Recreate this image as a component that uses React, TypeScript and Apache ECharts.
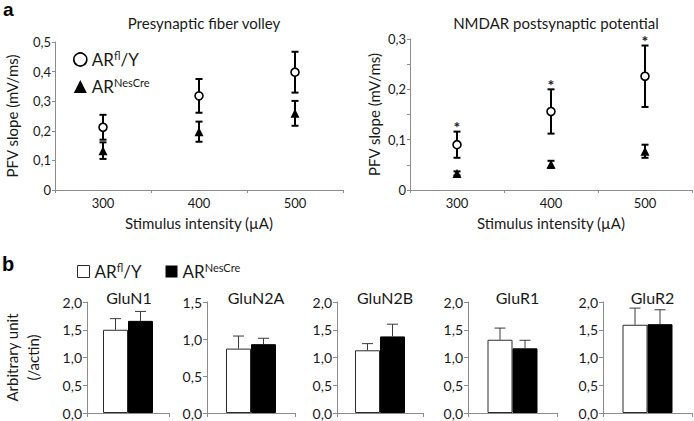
import React, { useEffect, useRef } from "react";
import * as echarts from "echarts";

// ---- data ----
const intensities = ["300", "400", "500"];
const pfvFl = [0.212, 0.318, 0.398];
const pfvFlErr = [0.042, 0.057, 0.069];
const pfvNes = [0.133, 0.197, 0.259];
const pfvNesErr = [0.028, 0.034, 0.042];
const nmdaFl = [0.09, 0.156, 0.226];
const nmdaFlErr = [0.026, 0.044, 0.061];
const nmdaNes = [0.033, 0.051, 0.077];
const nmdaNesErr = [0.004, 0.007, 0.013];
const nmdaSignificant = [true, true, true];

const proteins = ["GluN1", "GluN2A", "GluN2B", "GluR1", "GluR2"];
const blotFl = [1.5, 0.87, 1.13, 1.32, 1.59];
const blotFlErr = [0.2, 0.17, 0.12, 0.21, 0.3];
const blotNes = [1.66, 0.93, 1.38, 1.165, 1.6];
const blotNesErr = [0.17, 0.08, 0.22, 0.145, 0.26];
const blotMax = [2.0, 1.5, 2.0, 2.0, 2.0];

// ---- layout / style ----
const FONT = "Lato";
const TXT = "#1a1a1a";
const AX = "#8c8c8c";
const topGrids = [
  { left: 55, top: 42, width: 288, height: 148 },
  { left: 410, top: 39, width: 282, height: 151 },
];
const topTitles = ["Presynaptic fiber volley", "NMDAR postsynaptic potential"];
const topMax = [0.5, 0.3];
const topNameGap = [36, 29];
const botLefts = [79, 207, 337, 468, 603];
const botWidths = [90, 88, 86, 89, 89];
const BOT_TOP = 302;
const BOT_H = 111;
const BAR_W = 25;

const comma = (v: number, d: number) => v.toFixed(d).replace(".", ",");

export default function App() {
  const ref = useRef<HTMLDivElement>(null);
  useEffect(() => {
    document.body.style.margin = "0";
    const chart = echarts.init(ref.current!, null, { renderer: "svg" });

    const grids: any[] = [];
    const xAxes: any[] = [];
    const yAxes: any[] = [];
    const series: any[] = [];
    const titles: any[] = [];

    const errRender = (params: any, api: any) => {
      const x = api.value(0);
      const m = api.value(1);
      const e = api.value(2);
      const t = api.coord([x, m + e]);
      const b = api.coord([x, m - e]);
      const cw = 3.5;
      const st = { stroke: "#000", lineWidth: 2 };
      return {
        type: "group",
        children: [
          { type: "line", shape: { x1: t[0], y1: t[1], x2: b[0], y2: b[1] }, style: st },
          { type: "line", shape: { x1: t[0] - cw, y1: t[1], x2: t[0] + cw, y2: t[1] }, style: st },
          { type: "line", shape: { x1: b[0] - cw, y1: b[1], x2: b[0] + cw, y2: b[1] }, style: st },
        ],
      };
    };

    const topSets = [
      { fl: pfvFl, flE: pfvFlErr, nes: pfvNes, nesE: pfvNesErr, sig: null as any },
      { fl: nmdaFl, flE: nmdaFlErr, nes: nmdaNes, nesE: nmdaNesErr, sig: nmdaSignificant },
    ];

    topSets.forEach((s, gi) => {
      grids.push({ ...topGrids[gi] });
      titles.push({
        text: topTitles[gi],
        left: topGrids[gi].left + topGrids[gi].width / 2,
        top: 10,
        textAlign: "center",
        textStyle: { fontFamily: FONT, fontSize: 15, fontWeight: "normal", color: TXT },
      });
      xAxes.push({
        type: "category",
        gridIndex: gi,
        data: intensities,
        axisLine: { lineStyle: { color: AX, width: 1 } },
        axisTick: { show: true, length: 3, lineStyle: { color: AX } },
        axisLabel: { fontFamily: FONT, fontSize: 13, color: TXT, margin: 6 },
        name: "Stimulus intensity (µA)",
        nameLocation: "middle",
        nameGap: 25,
        nameTextStyle: { fontFamily: FONT, fontSize: 15, color: TXT },
      });
      yAxes.push({
        type: "value",
        gridIndex: gi,
        min: 0,
        max: topMax[gi],
        interval: 0.1,
        splitLine: { show: false },
        axisLine: { show: true, lineStyle: { color: AX, width: 1 } },
        axisTick: { show: true, length: 3, lineStyle: { color: AX } },
        minorTick: gi === 1 ? { show: true, splitNumber: 2, length: 3, lineStyle: { color: AX } } : { show: false },
        axisLabel: {
          fontFamily: FONT,
          fontSize: 13,
          color: TXT,
          margin: 4,
          formatter: (v: number) => (v === 0 ? "0" : comma(v, 1)),
        },
        name: "PFV slope (mV/ms)",
        nameLocation: "middle",
        nameGap: topNameGap[gi],
        nameTextStyle: { fontFamily: FONT, fontSize: 15, color: TXT },
      });
      series.push({
        type: "custom",
        xAxisIndex: gi,
        yAxisIndex: gi,
        renderItem: errRender,
        data: s.fl.map((v, i) => [i, v, s.flE[i]]),
        z: 2,
        silent: true,
      });
      series.push({
        type: "custom",
        xAxisIndex: gi,
        yAxisIndex: gi,
        renderItem: errRender,
        data: s.nes.map((v, i) => [i, v, s.nesE[i]]),
        z: 2,
        silent: true,
      });
      series.push({
        name: "ARfl",
        type: "scatter",
        xAxisIndex: gi,
        yAxisIndex: gi,
        symbol: "circle",
        symbolSize: 8,
        itemStyle: { color: "#fff", borderColor: "#000", borderWidth: 1.6, opacity: 1 },
        data: s.fl.map((v, i) => [i, v]),
        z: 5,
      });
      series.push({
        name: "ARnes",
        type: "scatter",
        xAxisIndex: gi,
        yAxisIndex: gi,
        symbol: "triangle",
        symbolSize: 9,
        itemStyle: { color: "#000", opacity: 1 },
        data: s.nes.map((v, i) => [i, v]),
        z: 5,
      });
      if (s.sig) {
        series.push({
          type: "custom",
          xAxisIndex: gi,
          yAxisIndex: gi,
          silent: true,
          data: s.fl.map((v, i) => [i, v, s.flE[i], s.sig[i] ? 1 : 0]),
          renderItem: (params: any, api: any) => {
            if (!api.value(3)) return null;
            const p = api.coord([api.value(0), api.value(1) + api.value(2)]);
            return {
              type: "text",
              style: {
                text: "*",
                x: p[0],
                y: p[1] - 13,
                textAlign: "center",
                textVerticalAlign: "top",
                fontFamily: FONT,
                fontSize: 16,
                fontWeight: "bold",
                fill: TXT,
              },
            };
          },
        });
      }
    });

    const barErrRender = (params: any, api: any) => {
      const m = api.value(1);
      const e = api.value(2);
      const sgn = api.value(3);
      const c = api.coord([0, m]);
      const t = api.coord([0, m + e]);
      const x = c[0] + (sgn * BAR_W) / 2;
      const cw = 5.5;
      const st = { stroke: "#3a3a3a", lineWidth: 1 };
      return {
        type: "group",
        children: [
          { type: "line", shape: { x1: x, y1: c[1], x2: x, y2: t[1] }, style: st },
          { type: "line", shape: { x1: x - cw, y1: t[1], x2: x + cw, y2: t[1] }, style: st },
        ],
      };
    };

    proteins.forEach((p, k) => {
      const gi = 2 + k;
      grids.push({ left: botLefts[k], top: BOT_TOP, width: botWidths[k], height: BOT_H });
      titles.push({
        text: p,
        left: botLefts[k] + botWidths[k] / 2,
        top: 284,
        textAlign: "center",
        textStyle: { fontFamily: FONT, fontSize: 16, fontWeight: "normal", color: TXT },
      });
      xAxes.push({
        type: "category",
        gridIndex: gi,
        data: [p],
        axisLine: { lineStyle: { color: AX, width: 1 } },
        axisTick: { show: true, length: 4, lineStyle: { color: AX } },
        axisLabel: { show: false },
      });
      yAxes.push({
        type: "value",
        gridIndex: gi,
        min: 0,
        max: blotMax[k],
        interval: 0.5,
        splitLine: { show: false },
        axisLine: { show: true, lineStyle: { color: AX, width: 1 } },
        axisTick: { show: true, length: 4, lineStyle: { color: AX } },
        axisLabel: { fontFamily: FONT, fontSize: 14, color: TXT, margin: 5, formatter: (v: number) => comma(v, 1) },
        name: k === 0 ? "Arbitrary unit\n(/actin)" : "",
        nameLocation: "middle",
        nameGap: 44,
        nameTextStyle: { fontFamily: FONT, fontSize: 15, color: TXT, lineHeight: 21 },
      });
      series.push({
        name: "ARfl",
        type: "bar",
        xAxisIndex: gi,
        yAxisIndex: gi,
        barWidth: BAR_W,
        barGap: "0%",
        itemStyle: { color: "#fff", borderColor: "#2a2a2a", borderWidth: 1 },
        data: [blotFl[k]],
        z: 2,
      });
      series.push({
        name: "ARnes",
        type: "bar",
        xAxisIndex: gi,
        yAxisIndex: gi,
        barWidth: BAR_W,
        barGap: "0%",
        itemStyle: { color: "#000", borderColor: "#000", borderWidth: 1 },
        data: [blotNes[k]],
        z: 2,
      });
      series.push({
        type: "custom",
        xAxisIndex: gi,
        yAxisIndex: gi,
        silent: true,
        renderItem: barErrRender,
        data: [
          [0, blotFl[k], blotFlErr[k], -1],
          [0, blotNes[k], blotNesErr[k], 1],
        ],
        z: 3,
      });
    });

    const rich = {
      b: { fontFamily: FONT, fontSize: 17, color: TXT },
      s: { fontFamily: FONT, fontSize: 11, color: TXT, padding: [0, 0, 8, 0] },
    };
    const fmt = (n: string) => (n === "ARfl" ? "{b|AR}{s|fl}{b|/Y}" : "{b|AR}{s|NesCre}");

    chart.setOption({
      animation: false,
      title: titles,
      grid: grids,
      xAxis: xAxes,
      yAxis: yAxes,
      series,
      legend: [
        {
          orient: "vertical",
          left: 68,
          top: 45,
          itemWidth: 13,
          itemHeight: 13,
          itemGap: 9,
          selectedMode: false,
          formatter: fmt,
          textStyle: { rich },
          data: [
            { name: "ARfl", icon: "circle", itemStyle: { color: "#fff", borderColor: "#000", borderWidth: 1.6 } },
            { name: "ARnes", icon: "triangle", itemStyle: { color: "#000", borderWidth: 0 } },
          ],
        },
        {
          orient: "horizontal",
          left: 72,
          top: 257,
          itemWidth: 12,
          itemHeight: 12,
          itemGap: 24,
          selectedMode: false,
          formatter: fmt,
          textStyle: { rich },
          data: [
            { name: "ARfl", icon: "rect", itemStyle: { color: "#fff", borderColor: "#2a2a2a", borderWidth: 1 } },
            { name: "ARnes", icon: "rect", itemStyle: { color: "#000", borderWidth: 0 } },
          ],
        },
      ],
      graphic: [
        { type: "text", left: 3, top: 0, style: { text: "a", fontFamily: "Liberation Sans", fontWeight: "bold", fontSize: 19, fill: "#000" } },
        { type: "text", left: 2, top: 254, style: { text: "b", fontFamily: "Liberation Sans", fontWeight: "bold", fontSize: 20, fill: "#000" } },
      ],
    });
    return () => chart.dispose();
  }, []);
  return <div ref={ref} style={{ width: 694, height: 421 }} />;
}
